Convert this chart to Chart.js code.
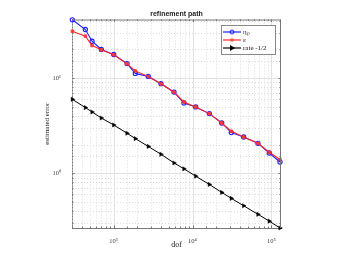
<!DOCTYPE html>
<html><head><meta charset="utf-8">
<script src="https://cdn.jsdelivr.net/npm/chart.js@4"></script>
<style>html,body{margin:0;padding:0;background:#fff}#wrap{width:341px;height:256px}</style>
</head><body><div id="wrap"><canvas id="c" width="341" height="256"></canvas></div>
<script>
const dof = [301, 440, 535, 701, 1006, 1483, 1888, 2756, 3990, 5834, 7800, 10980, 16330, 23440, 30990, 44460, 67450, 93750, 128200];
const etaP = [41.0, 32.4, 24.4, 20.0, 17.7, 14.2, 11.2, 10.4, 8.73, 7.13, 5.47, 4.97, 4.23, 3.37, 2.67, 2.40, 2.06, 1.63, 1.31];
const epsilon = [31.1, 27.6, 22.0, 19.8, 17.6, 14.1, 11.9, 10.4, 8.70, 7.10, 5.60, 4.97, 4.23, 3.37, 2.76, 2.40, 2.06, 1.66, 1.39];
const rate = [5.98, 4.89, 4.40, 3.80, 3.21, 2.63, 2.31, 1.91, 1.58, 1.28, 1.11, 0.93, 0.761, 0.627, 0.543, 0.454, 0.369, 0.313, 0.265];
const seriesLabels = ['ηₚ', 'ε', 'rate -1/2'];
const titleText = 'refinement path';
const xTickLabels = {3: '10³', 4: '10⁴', 5: '10⁵'};
const yTickLabels = {0: '10⁰', 1: '10¹'};

const pts = arr => arr.map((v, i) => ({x: dof[i], y: v}));
const BLUE = 'rgb(30,30,255)', RED = 'rgb(255,40,40)', BLACK = '#000';

function isPow10(v){ const l = Math.log10(v); return Math.abs(l - Math.round(l)) < 1e-9; }

const gridPlugin = {
  id: 'mgrid',
  beforeDatasetsDraw(chart){
    const a = chart.chartArea, c = chart.ctx;
    const xs = chart.scales.x, ys = chart.scales.y;
    c.save();
    c.lineWidth = 1;
    const line = (x1, y1, x2, y2, major) => {
      c.strokeStyle = major ? '#e2e2e2' : '#dadada';
      c.setLineDash(major ? [] : [1, 2]);
      c.beginPath(); c.moveTo(x1, y1); c.lineTo(x2, y2); c.stroke();
    };
    xs.ticks.forEach(t => {
      if (t.value <= xs.min || t.value >= xs.max) return;
      const x = Math.round(xs.getPixelForValue(t.value)) + 0.5;
      line(x, a.top, x, a.bottom, isPow10(t.value));
    });
    ys.ticks.forEach(t => {
      if (t.value <= ys.min || t.value >= ys.max) return;
      const y = Math.round(ys.getPixelForValue(t.value)) + 0.5;
      line(a.left, y, a.right, y, isPow10(t.value));
    });
    c.setLineDash([]);
    c.strokeStyle = '#777';
    c.beginPath();
    xs.ticks.forEach(t => {
      if (t.value <= xs.min || t.value >= xs.max) return;
      const x = Math.round(xs.getPixelForValue(t.value)) + 0.5;
      const L = isPow10(t.value) ? 2.5 : 1.5;
      c.moveTo(x, a.bottom); c.lineTo(x, a.bottom - L);
      c.moveTo(x, a.top); c.lineTo(x, a.top + L);
    });
    ys.ticks.forEach(t => {
      if (t.value <= ys.min || t.value >= ys.max) return;
      const y = Math.round(ys.getPixelForValue(t.value)) + 0.5;
      const L = isPow10(t.value) ? 2.5 : 1.5;
      c.moveTo(a.left, y); c.lineTo(a.left + L, y);
      c.moveTo(a.right, y); c.lineTo(a.right - L, y);
    });
    c.stroke();
    c.restore();
  },
  afterDraw(chart){
    const a = chart.chartArea, c = chart.ctx;
    c.save();
    c.strokeStyle = '#777'; c.lineWidth = 1;
    c.beginPath();
    c.moveTo(a.left, a.top + 0.5); c.lineTo(a.right, a.top + 0.5);
    c.moveTo(a.right - 0.5, a.top); c.lineTo(a.right - 0.5, a.bottom);
    c.stroke();
    c.fillStyle = '#222'; c.font = 'bold 7px "Liberation Sans", Arial';
    c.textAlign = 'center'; c.textBaseline = 'middle';
    c.fillText(titleText, (a.left + a.right) / 2, 14);
    const lx = 221, ly = 25, lw = 54, lh = 29;
    c.fillStyle = '#fff'; c.fillRect(lx, ly, lw, lh);
    c.strokeStyle = '#888'; c.strokeRect(lx + 0.5, ly + 0.5, lw, lh);
    const rows = [32, 40, 48];
    chart.data.datasets.forEach((ds) => {
      const y = rows[ds.legendRow];
      c.strokeStyle = ds.borderColor; c.lineWidth = 1.2;
      c.beginPath(); c.moveTo(223, y); c.lineTo(241, y); c.stroke();
      c.lineWidth = 1;
      c.fillStyle = ds.pointBackgroundColor; c.strokeStyle = ds.pointBorderColor;
      if (ds.pointStyle === 'triangle') {
        c.beginPath(); c.moveTo(235, y); c.lineTo(230, y - 3); c.lineTo(230, y + 3); c.closePath(); c.fill();
      } else if (ds.pointStyle === 'rect') {
        c.fillRect(230.5, y - 1.5, 3, 3);
      } else {
        c.beginPath(); c.arc(232, y, 2, 0, Math.PI * 2); c.stroke();
      }
      c.fillStyle = '#222'; c.font = '7px "Liberation Serif", serif';
      c.textBaseline = 'middle'; c.textAlign = 'left';
      c.fillText(ds.label, 243, y + 0.5);
    });
    c.restore();
  }
};

new Chart(document.getElementById('c'), {
  type: 'line',
  data: {
    datasets: [
      {label: seriesLabels[1], data: pts(epsilon), borderColor: RED, backgroundColor: RED, pointBackgroundColor: 'rgba(255,60,60,0.8)', pointBorderColor: RED, pointStyle: 'rect', pointRadius: 1.8, pointBorderWidth: 0.8, borderWidth: 1.1, order: 0, legendRow: 1, clip: false},
      {label: seriesLabels[0], data: pts(etaP), borderColor: BLUE, backgroundColor: BLUE, pointBackgroundColor: 'rgba(255,255,255,0)', pointBorderColor: BLUE, pointStyle: 'circle', pointRadius: 2.1, pointBorderWidth: 1.1, borderWidth: 1.1, order: 1, legendRow: 0, clip: false},
      {label: seriesLabels[2], data: pts(rate), borderColor: BLACK, backgroundColor: BLACK, pointBackgroundColor: BLACK, pointBorderColor: BLACK, pointStyle: 'triangle', pointRotation: 90, pointRadius: 2.4, pointBorderWidth: 0.5, borderWidth: 1, order: 2, legendRow: 2, clip: false}
    ]
  },
  options: {
    responsive: false, animation: false, devicePixelRatio: 1,
    layout: {padding: {left: 0, right: 60, top: 19.5, bottom: 0}},
    plugins: {legend: {display: false}, tooltip: {enabled: false}, title: {display: false}},
    scales: {
      x: {
        type: 'logarithmic', min: 298, max: 132000,
        border: {color: '#777'},
        grid: {display: false},
        ticks: {autoSkip: false, maxRotation: 0, padding: 1, color: '#444', font: {family: 'Liberation Serif', size: 6.5},
          callback: (v) => isPow10(v) ? (xTickLabels[Math.round(Math.log10(v))] || '') : ''},
        title: {display: true, text: 'dof', color: '#222', font: {family: 'Liberation Serif', size: 8}, padding: {top: 0, bottom: 6}},
        afterFit: s => { s.height = 28; }
      },
      y: {
        type: 'logarithmic', min: 0.265, max: 41.3,
        border: {color: '#777'},
        grid: {display: false},
        ticks: {autoSkip: false, padding: 3, color: '#444', font: {family: 'Liberation Serif', size: 6.5},
          callback: (v) => isPow10(v) ? (yTickLabels[Math.round(Math.log10(v))] || '') : ''},
        title: {display: true, text: 'estimated error', color: '#222', font: {family: 'Liberation Serif', size: 7}, padding: {top: 43, bottom: 0}},
        afterFit: s => { s.width = 72; }
      }
    }
  },
  plugins: [gridPlugin]
});
</script></body></html>
